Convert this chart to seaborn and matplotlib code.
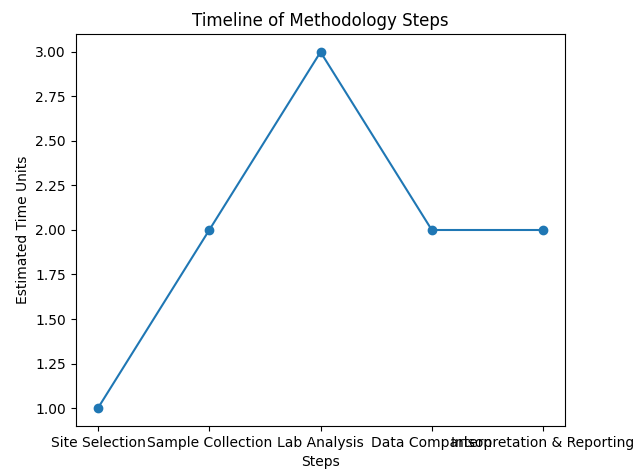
import matplotlib
matplotlib.use("Agg")
import matplotlib.pyplot as plt
import seaborn as sns
import pandas as pd

steps = ["Site Selection", "Sample Collection", "Lab Analysis", "Data Comparison", "Interpretation & Reporting"]
time_units = [1, 2, 3, 2, 2]

df = pd.DataFrame({"Steps": steps, "Estimated Time Units": time_units})

fig = plt.figure(figsize=(6.35, 4.69), dpi=100)
ax = fig.add_axes([0.1193, 0.0921, 0.771, 0.835])
sns.lineplot(data=df, x="Steps", y="Estimated Time Units", sort=False, marker="o",
             color="#1f77b4", markeredgecolor="#1f77b4", markeredgewidth=1.0,
             markersize=6, linewidth=1.5, ax=ax)
ax.set_title("Timeline of Methodology Steps")
ax.set_xlabel("Steps")
ax.set_ylabel("Estimated Time Units")
ax.set_yticks([1.0, 1.25, 1.5, 1.75, 2.0, 2.25, 2.5, 2.75, 3.0])
ax.set_yticklabels(["1.00", "1.25", "1.50", "1.75", "2.00", "2.25", "2.50", "2.75", "3.00"])
fig.savefig("out.png", dpi=100)
